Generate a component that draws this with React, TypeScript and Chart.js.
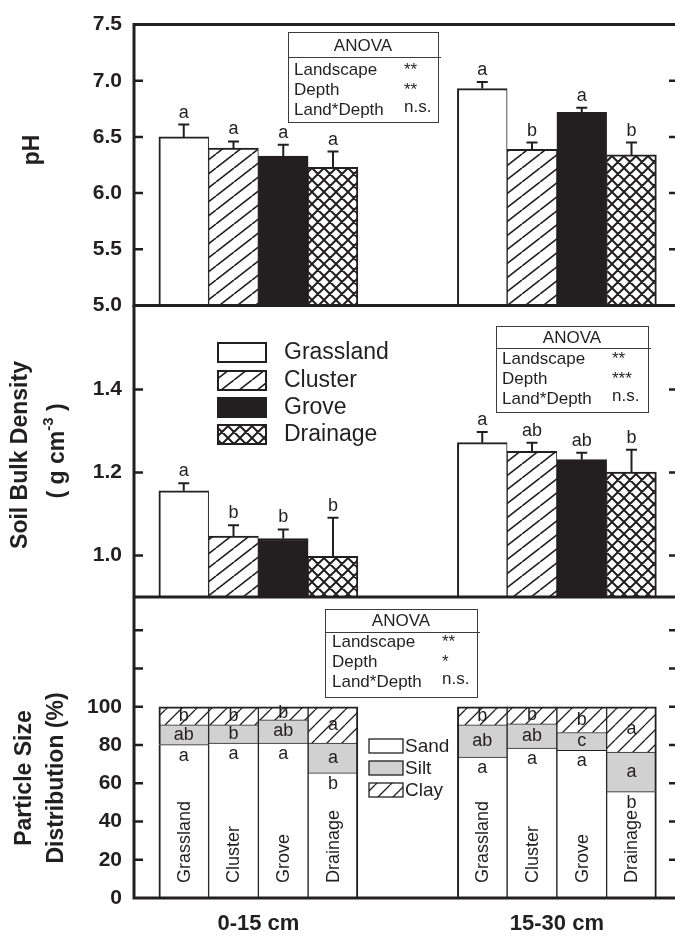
import React, { useEffect, useRef } from 'react';
import { Chart, registerables } from 'chart.js';

Chart.register(...registerables);

// ---------------- data ----------------
const depths = ['0-15 cm', '15-30 cm'];
const landscapes = ['Grassland', 'Cluster', 'Grove', 'Drainage'];
const barX0_15 = [1, 2, 3, 4];
const barX15_30 = [7, 8, 9, 10];
const depthCenters = [2.5, 8.5];

const phMean0_15 = [6.5, 6.4, 6.33, 6.23];
const phMean15_30 = [6.93, 6.39, 6.72, 6.34];
const phErr0_15 = [0.11, 0.06, 0.1, 0.14];
const phErr15_30 = [0.06, 0.06, 0.04, 0.11];
const phLetters0_15 = ['a', 'a', 'a', 'a'];
const phLetters15_30 = ['a', 'b', 'a', 'b'];

const bdMean0_15 = [1.156, 1.047, 1.041, 0.998];
const bdMean15_30 = [1.272, 1.251, 1.231, 1.201];
const bdErr0_15 = [0.018, 0.026, 0.022, 0.093];
const bdErr15_30 = [0.026, 0.021, 0.017, 0.054];
const bdLetters0_15 = ['a', 'b', 'b', 'b'];
const bdLetters15_30 = ['a', 'ab', 'ab', 'b'];

const psdFractions = ['Sand', 'Silt', 'Clay'];
const sand0_15 = [80.2, 81.0, 81.0, 65.4];
const silt0_15 = [10.3, 9.5, 12.1, 15.6];
const clay0_15 = [9.5, 9.5, 6.9, 19.0];
const sand15_30 = [73.7, 78.4, 77.2, 55.6];
const silt15_30 = [16.8, 12.6, 9.3, 20.7];
const clay15_30 = [9.5, 9.0, 13.5, 23.7];
const sandLetters0_15 = ['a', 'a', 'a', 'b'];
const siltLetters0_15 = ['ab', 'b', 'ab', 'a'];
const clayLetters0_15 = ['b', 'b', 'b', 'a'];
const sandLetters15_30 = ['a', 'a', 'a', 'b'];
const siltLetters15_30 = ['ab', 'ab', 'c', 'a'];
const clayLetters15_30 = ['b', 'b', 'b', 'a'];

const phTicks = [5.0, 5.5, 6.0, 6.5, 7.0, 7.5];
const bdTicks = [1.0, 1.2, 1.4];
const psdTicks = [0, 20, 40, 60, 80, 100];
const psdMinorTicks = [120, 140];

const anovaTerms = ['Landscape', 'Depth', 'Land*Depth'];
const phAnova = ['**', '**', 'n.s.'];
const bdAnova = ['**', '***', 'n.s.'];
const psdAnova = ['**', '*', 'n.s.'];

// ---------------- style / layout ----------------
const INK = '#231f20';
const SILT = '#d1d1d1';
const FONT = '"Liberation Sans", Arial, Helvetica, sans-serif';
const CW = 690;
const LEFT = 134;
const RIGHT = 678;
const VIEW_RIGHT = 675;
const BAR_UNIT = 49.75;
const X_MAX = (RIGHT - LEFT) / BAR_UNIT;

const depthBarX = [barX0_15, barX15_30];

function makeHatch(w: number, h: number, lw: number, cross: boolean) {
  const c = document.createElement('canvas');
  c.width = w;
  c.height = h;
  const g = c.getContext('2d')!;
  g.fillStyle = '#ffffff';
  g.fillRect(0, 0, w, h);
  g.strokeStyle = INK;
  g.lineWidth = lw;
  g.beginPath();
  for (const k of [-1, 0, 1]) {
    g.moveTo(k * w, h);
    g.lineTo(k * w + w, 0);
    if (cross) {
      g.moveTo(k * w, 0);
      g.lineTo(k * w + w, h);
    }
  }
  g.stroke();
  return g.createPattern(c, 'repeat')!;
}

function vtext(ctx: CanvasRenderingContext2D, text: string, x: number, y: number, font: string, align: CanvasTextAlign = 'center') {
  ctx.save();
  ctx.translate(x, y);
  ctx.rotate(-Math.PI / 2);
  ctx.font = font;
  ctx.textAlign = align;
  ctx.textBaseline = 'middle';
  ctx.fillStyle = INK;
  ctx.fillText(text, 0, 0);
  ctx.restore();
}

type AnovaBox = { x: number; y: number; w: number; h: number; lineY: number; titleY: number; rows: number[]; termX: number; sigX: number };

function drawAnova(ctx: CanvasRenderingContext2D, dy: number, b: AnovaBox, sigs: string[]) {
  ctx.save();
  ctx.strokeStyle = '#3c3c3c';
  ctx.lineWidth = 1;
  ctx.strokeRect(b.x + 0.5, b.y - dy + 0.5, b.w, b.h);
  ctx.beginPath();
  ctx.moveTo(b.x, b.lineY - dy + 0.5);
  ctx.lineTo(b.x + b.w + 3, b.lineY - dy + 0.5);
  ctx.stroke();
  ctx.fillStyle = INK;
  ctx.font = `17px ${FONT}`;
  ctx.textBaseline = 'middle';
  ctx.textAlign = 'center';
  ctx.fillText('ANOVA', b.x + b.w / 2, b.titleY - dy);
  ctx.textAlign = 'left';
  anovaTerms.forEach((t, k) => {
    ctx.fillText(t, b.termX, b.rows[k] - dy);
    const s = sigs[k];
    ctx.fillText(s, b.sigX, b.rows[k] - dy - (s.includes('*') ? 0 : 3));
  });
  ctx.restore();
}

function frame(chart: any, ticks: number[], drawTop: boolean) {
  const { ctx, chartArea: a, scales } = chart;
  const y = scales.y;
  ctx.save();
  ctx.strokeStyle = INK;
  ctx.lineWidth = 3;
  ctx.lineCap = 'square';
  ctx.beginPath();
  if (drawTop) {
    ctx.moveTo(a.right, a.top);
    ctx.lineTo(a.left, a.top);
  } else {
    ctx.moveTo(a.left, a.top);
  }
  ctx.lineTo(a.left, a.bottom);
  ctx.lineTo(a.right, a.bottom);
  ctx.stroke();
  ctx.lineWidth = 2.5;
  ctx.lineCap = 'butt';
  ctx.beginPath();
  ticks.forEach((v) => {
    const py = y.getPixelForValue(v);
    ctx.moveTo(a.left, py);
    ctx.lineTo(a.left + 9, py);
    ctx.moveTo(VIEW_RIGHT + 1, py);
    ctx.lineTo(VIEW_RIGHT - 6, py);
  });
  ctx.stroke();
  ctx.restore();
}

function xScale(show: boolean) {
  return {
    type: 'linear',
    min: 0,
    max: X_MAX,
    offset: false,
    stacked: true,
    display: show,
    afterBuildTicks: (s: any) => {
      s.ticks = depthCenters.map((v) => ({ value: v }));
    },
    afterFit: (s: any) => {
      if (show) s.height = 41;
    },
    grid: { display: false, drawTicks: false, tickLength: 0 },
    border: { display: false },
    ticks: {
      autoSkip: false,
      maxRotation: 0,
      padding: 13,
      color: INK,
      font: { family: FONT, size: 22, weight: 'bold' },
      callback: (_v: any, i: number) => depths[i],
    },
  };
}

function yScale(min: number, max: number, labelTicks: number[], fmt: (v: number) => string, stacked: boolean) {
  return {
    type: 'linear',
    min,
    max,
    stacked,
    afterFit: (s: any) => {
      s.width = LEFT;
    },
    afterBuildTicks: (s: any) => {
      s.ticks = labelTicks.map((v) => ({ value: v }));
    },
    grid: { display: false, drawTicks: false, tickLength: 0 },
    border: { display: false },
    ticks: {
      autoSkip: false,
      padding: 12,
      color: INK,
      font: { family: FONT, size: 21, weight: 'bold' },
      callback: (v: any) => fmt(Number(v)),
    },
  };
}

type BarPanel = {
  dy: number;
  padTop: number;
  padBottom: number;
  yMin: number;
  yMax: number;
  labelTicks: number[];
  frameTicks: number[];
  fmt: (v: number) => string;
  means: number[][];
  errs: number[][];
  letters: string[][];
  fills: any[];
  drawTop: boolean;
  extra: (ctx: CanvasRenderingContext2D, dy: number) => void;
};

function barPanel(canvas: HTMLCanvasElement, p: BarPanel) {
  const datasets = landscapes.map((name, i) => ({
    label: name,
    data: depthBarX.map((xs, j) => ({ x: xs[i], y: p.means[j][i] })),
    backgroundColor: p.fills[i],
    borderColor: INK,
    borderWidth: { top: 2, left: i === 0 ? 2 : 1, right: i === 3 ? 2 : 1, bottom: 0 },
    borderSkipped: 'start',
    base: p.yMin,
    categoryPercentage: 1,
    barPercentage: 1,
  }));
  const overlay = {
    id: 'overlay',
    afterDatasetsDraw(chart: any) {
      const ctx = chart.ctx as CanvasRenderingContext2D;
      const y = chart.scales.y;
      ctx.save();
      ctx.strokeStyle = INK;
      ctx.fillStyle = INK;
      ctx.lineWidth = 2;
      ctx.font = `18px ${FONT}`;
      ctx.textAlign = 'center';
      ctx.textBaseline = 'alphabetic';
      chart.data.datasets.forEach((_ds: any, i: number) => {
        chart.getDatasetMeta(i).data.forEach((bar: any, j: number) => {
          const m = p.means[j][i];
          const e = p.errs[j][i];
          const top = y.getPixelForValue(m);
          const et = y.getPixelForValue(m + e);
          ctx.beginPath();
          ctx.moveTo(bar.x, top);
          ctx.lineTo(bar.x, et);
          ctx.moveTo(bar.x - 5.5, et);
          ctx.lineTo(bar.x + 5.5, et);
          ctx.stroke();
          ctx.fillText(p.letters[j][i], bar.x, et - 7);
        });
      });
      ctx.restore();
    },
    afterDraw(chart: any) {
      frame(chart, p.frameTicks, p.drawTop);
      p.extra(chart.ctx, p.dy);
    },
  };
  return new Chart(canvas, {
    type: 'bar',
    data: { datasets },
    options: {
      responsive: false,
      animation: false,
      devicePixelRatio: 1,
      events: [],
      layout: { padding: { top: p.padTop, bottom: p.padBottom, left: 0, right: CW - RIGHT } },
      plugins: { legend: { display: false }, tooltip: { enabled: false } },
      scales: {
        x: xScale(false),
        y: yScale(p.yMin, p.yMax, p.labelTicks, p.fmt, false),
      },
    } as any,
    plugins: [overlay],
  } as any);
}

function psdPanel(canvas: HTMLCanvasElement, dy: number, padTop: number, clayFill: any) {
  const byFraction = [
    [sand0_15, sand15_30],
    [silt0_15, silt15_30],
    [clay0_15, clay15_30],
  ];
  const lettersByFraction = [
    [sandLetters0_15, sandLetters15_30],
    [siltLetters0_15, siltLetters15_30],
    [clayLetters0_15, clayLetters15_30],
  ];
  const fills = ['#ffffff', SILT, clayFill];
  const datasets = psdFractions.map((name, f) => ({
    label: name,
    data: [0, 1].flatMap((j) => depthBarX[j].map((x, i) => ({ x, y: byFraction[f][j][i] }))),
    backgroundColor: fills[f],
    borderColor: INK,
    borderWidth: (c: any) => ({
      top: f === 2 ? 2 : 1,
      left: c.dataIndex % 4 === 0 ? 2 : 1,
      right: c.dataIndex % 4 === 3 ? 2 : 1,
      bottom: 0,
    }),
    borderSkipped: 'start',
    categoryPercentage: 1,
    barPercentage: 1,
  }));
  const overlay = {
    id: 'psdOverlay',
    afterDatasetsDraw(chart: any) {
      const ctx = chart.ctx as CanvasRenderingContext2D;
      const y = chart.scales.y;
      const y0 = y.getPixelForValue(0);
      ctx.save();
      ctx.fillStyle = INK;
      ctx.font = `18px ${FONT}`;
      ctx.textAlign = 'center';
      ctx.textBaseline = 'middle';
      psdFractions.forEach((_n, f) => {
        chart.getDatasetMeta(f).data.forEach((bar: any, k: number) => {
          const j = Math.floor(k / 4);
          const i = k % 4;
          const letter = lettersByFraction[f][j][i];
          const ty = f === 0 ? bar.y + 11 : (bar.y + bar.base) / 2;
          ctx.fillText(letter, bar.x, ty);
          if (f === 0) vtext(ctx, landscapes[i], bar.x + 1, y0 - 15, `18px ${FONT}`, 'left');
        });
      });
      ctx.restore();
    },
    afterDraw(chart: any) {
      const ctx = chart.ctx as CanvasRenderingContext2D;
      frame(chart, [...psdTicks.slice(1), ...psdMinorTicks], false);
      drawAnova(ctx, dy, { x: 325, y: 609, w: 152, h: 88, lineY: 632, titleY: 621, rows: [642, 662, 682], termX: 332, sigX: 442 }, psdAnova);
      // legend
      ctx.save();
      const tops = [739, 761, 783];
      psdFractions.forEach((name, f) => {
        ctx.fillStyle = fills[f];
        ctx.fillRect(369, tops[f] - dy, 34, 14);
        ctx.strokeStyle = INK;
        ctx.lineWidth = 1.3;
        ctx.strokeRect(369, tops[f] - dy, 34, 14);
        ctx.fillStyle = INK;
        ctx.font = `19px ${FONT}`;
        ctx.textAlign = 'left';
        ctx.textBaseline = 'middle';
        ctx.fillText(name, 405, tops[f] - dy + 8);
      });
      ctx.restore();
      vtext(ctx, 'Particle Size', 25, 778 - dy, `bold 23px ${FONT}`);
      vtext(ctx, 'Distribution (%)', 57, 778 - dy, `bold 23px ${FONT}`);
    },
  };
  return new Chart(canvas, {
    type: 'bar',
    data: { datasets },
    options: {
      responsive: false,
      animation: false,
      devicePixelRatio: 1,
      events: [],
      layout: { padding: { top: padTop, bottom: 0, left: 0, right: CW - RIGHT } },
      plugins: { legend: { display: false }, tooltip: { enabled: false } },
      scales: {
        x: xScale(true),
        y: yScale(0, 156, psdTicks, (v) => String(Math.round(v)), true),
      },
    } as any,
    plugins: [overlay],
  } as any);
}

export default function App() {
  const r1 = useRef<HTMLCanvasElement>(null);
  const r2 = useRef<HTMLCanvasElement>(null);
  const r3 = useRef<HTMLCanvasElement>(null);

  useEffect(() => {
    const cluster = makeHatch(18, 14, 1.6, false);
    const drainage = makeHatch(12, 12, 2, true);
    const clay = makeHatch(15, 15, 1.3, false);
    const fills = ['#ffffff', cluster, INK, drainage];

    const c1 = barPanel(r1.current!, {
      dy: 0,
      padTop: 14,
      padBottom: 24,
      yMin: 5,
      yMax: 7.5,
      labelTicks: phTicks,
      frameTicks: [5.5, 6.0, 6.5, 7.0],
      fmt: (v) => v.toFixed(1),
      means: [phMean0_15, phMean15_30],
      errs: [phErr0_15, phErr15_30],
      letters: [phLetters0_15, phLetters15_30],
      fills,
      drawTop: true,
      extra: (ctx, dy) => {
        drawAnova(ctx, dy, { x: 288, y: 32, w: 150, h: 90, lineY: 57, titleY: 46, rows: [70, 90, 110], termX: 294, sigX: 404 }, phAnova);
        vtext(ctx, 'pH', 33, 150 - dy, `bold 23px ${FONT}`);
      },
    });

    const dy2 = 282;
    const c2 = barPanel(r2.current!, {
      dy: dy2,
      padTop: 306 - dy2,
      padBottom: 340 - (597 - dy2),
      yMin: 0.9,
      yMax: 1.6,
      labelTicks: bdTicks,
      frameTicks: bdTicks,
      fmt: (v) => v.toFixed(1),
      means: [bdMean0_15, bdMean15_30],
      errs: [bdErr0_15, bdErr15_30],
      letters: [bdLetters0_15, bdLetters15_30],
      fills,
      drawTop: false,
      extra: (ctx, dy) => {
        drawAnova(ctx, dy, { x: 496, y: 326, w: 152, h: 86, lineY: 348, titleY: 338, rows: [359, 379, 399], termX: 502, sigX: 612 }, bdAnova);
        ctx.save();
        const tops = [343, 371, 398, 425];
        landscapes.forEach((name, i) => {
          ctx.fillStyle = fills[i];
          ctx.fillRect(218, tops[i] - dy, 48, 19);
          ctx.strokeStyle = INK;
          ctx.lineWidth = 2;
          ctx.strokeRect(218, tops[i] - dy, 48, 19);
          ctx.fillStyle = INK;
          ctx.font = `23px ${FONT}`;
          ctx.textAlign = 'left';
          ctx.textBaseline = 'middle';
          ctx.fillText(name, 284, tops[i] - dy + 10);
        });
        ctx.restore();
        vtext(ctx, 'Soil Bulk Density', 21, 455 - dy, `bold 23px ${FONT}`);
        // ( g cm-3 ) with superscript
        ctx.save();
        ctx.translate(58, 451 - dy);
        ctx.rotate(-Math.PI / 2);
        ctx.fillStyle = INK;
        ctx.textBaseline = 'middle';
        ctx.textAlign = 'left';
        const big = `bold 23px ${FONT}`;
        const small = `bold 15px ${FONT}`;
        const parts: [string, string, number][] = [
          ['( g cm', big, 0],
          ['-3', small, -9],
          [' )', big, 0],
        ];
        let total = 0;
        parts.forEach(([t, f]) => {
          ctx.font = f;
          total += ctx.measureText(t).width;
        });
        let cx = -total / 2;
        parts.forEach(([t, f, off]) => {
          ctx.font = f;
          ctx.fillText(t, cx, off);
          cx += ctx.measureText(t).width;
        });
        ctx.restore();
      },
    });

    const dy3 = 575;
    const c3 = psdPanel(r3.current!, dy3, 597 - dy3, clay);

    return () => {
      c1.destroy();
      c2.destroy();
      c3.destroy();
    };
  }, []);

  return (
    <div style={{ position: 'fixed', left: 0, top: 0, width: 675, height: 939, overflow: 'hidden', background: '#ffffff' }}>
      <canvas ref={r1} width={CW} height={330} style={{ position: 'absolute', left: 0, top: 0 }} />
      <canvas ref={r2} width={CW} height={340} style={{ position: 'absolute', left: 0, top: 282 }} />
      <canvas ref={r3} width={CW} height={364} style={{ position: 'absolute', left: 0, top: 575 }} />
    </div>
  );
}
